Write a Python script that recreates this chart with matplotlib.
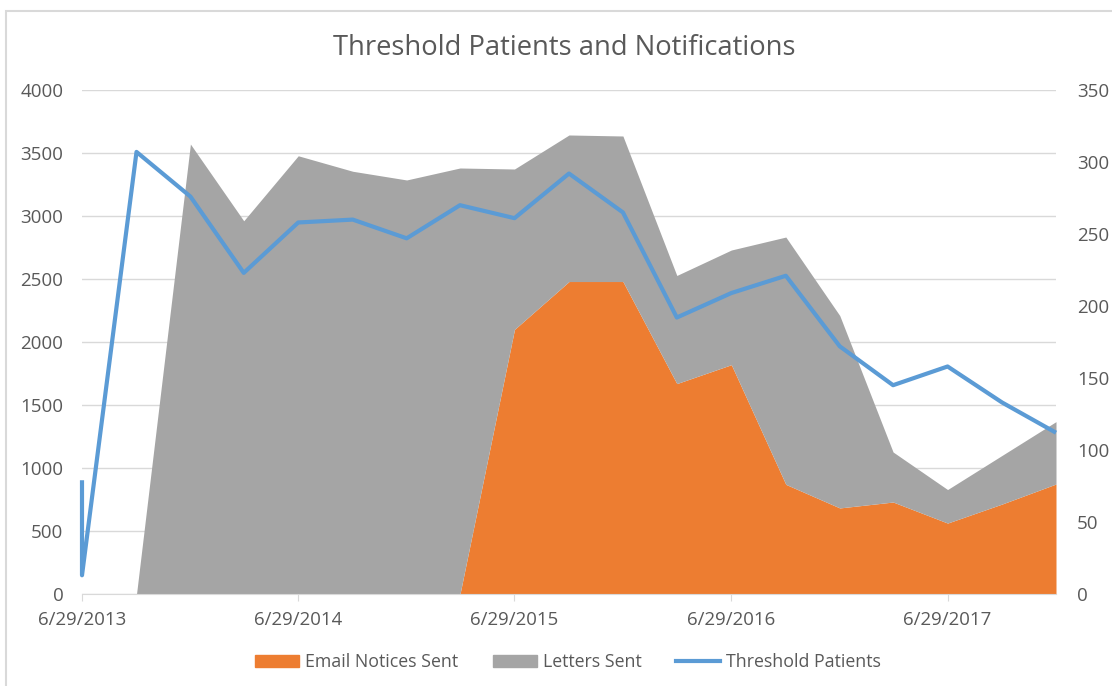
import numpy as np
import pandas as pd
import matplotlib
matplotlib.use('Agg')
import matplotlib.pyplot as plt
from matplotlib.patches import Rectangle, Patch
from matplotlib.lines import Line2D

# dados
datas = ['2013-06-29', '2013-06-29', '2013-09-29', '2013-12-29', '2014-03-29',
         '2014-06-29', '2014-09-29', '2014-12-29', '2015-03-29', '2015-06-29',
         '2015-09-29', '2015-12-29', '2016-03-29', '2016-06-29', '2016-09-29',
         '2016-12-29', '2017-03-29', '2017-06-29', '2017-09-29', '2017-12-29']
email = [0, 0, 0, 0, 0,
         0, 0, 0, 0, 2100,
         2480, 2480, 1670, 1820, 870,
         683, 730, 563, 714, 873]
total = [0, 0, 0, 3571, 2962,
         3478, 3355, 3286, 3381, 3373,
         3643, 3635, 2528, 2730, 2833,
         2210, 1127, 829, 1100, 1368]
pacientes = [79, 13, 307, 276, 223,
             258, 260, 247, 270, 261,
             292, 265, 192, 209, 221,
             172, 145, 158, 133, 112]
anos_ticks = ['2013-06-29', '2014-06-29', '2015-06-29', '2016-06-29', '2017-06-29']

x = pd.to_datetime(datas)
email = np.array(email)
cartas = np.array(total) - email

cor_texto = '#595959'
cor_grade = '#d9d9d9'
fonte = 'Open Sans'

fig = plt.figure(figsize=(11.12, 6.86), dpi=100)
ax = fig.add_axes([82 / 1112, 1 - 594 / 686, (1056 - 82) / 1112, (594 - 90) / 686])
ax2 = ax.twinx()

ax.fill_between(x, 0, email, color='#ed7d31', linewidth=0, zorder=2)
ax.fill_between(x, email, email + cartas, color='#a5a5a5', linewidth=0, zorder=2)
ax2.plot(x, pacientes, color='#5b9bd5', linewidth=3, solid_joinstyle='round',
         solid_capstyle='butt', clip_on=False, zorder=3)

ax.set_xlim(x[0], x[-1])
ax.set_ylim(0, 4000)
ax2.set_ylim(0, 350)
ax.set_yticks(np.arange(0, 4001, 500))
ax2.set_yticks(np.arange(0, 351, 50))
ax.grid(axis='y', color=cor_grade, linewidth=1, zorder=0)
ax.set_axisbelow(True)

ticks = pd.to_datetime(anos_ticks)
ax.set_xticks(ticks)
ax.set_xticklabels([f'{d.month}/{d.day}/{d.year}' for d in ticks])

for a in (ax, ax2):
    for s in a.spines.values():
        s.set_visible(False)
ax.spines['bottom'].set_visible(True)
ax.spines['bottom'].set_color(cor_grade)

ax.tick_params(axis='x', colors=cor_texto, labelsize=13.4, length=5, color=cor_grade, pad=7.5)
ax.tick_params(axis='y', colors=cor_texto, labelsize=13.5, length=0, pad=13.5)
ax2.tick_params(axis='y', colors=cor_texto, labelsize=13.5, length=0, pad=15)
for lab in ax.get_xticklabels() + ax.get_yticklabels() + ax2.get_yticklabels():
    lab.set_family(fonte)

fig.text(564 / 1112, 1 - 48 / 686, 'Threshold Patients and Notifications', ha='center', va='center',
         fontsize=19.75, color=cor_texto, family=fonte)

handles = [Patch(color='#ed7d31'), Patch(color='#a5a5a5'),
           Line2D([], [], color='#5b9bd5', linewidth=3)]
leg = fig.legend(handles, ['Email Notices Sent', 'Letters Sent', 'Threshold Patients'],
                 loc='center', bbox_to_anchor=(568 / 1112, 1 - 662 / 686), ncol=3,
                 frameon=False, prop={'family': fonte, 'size': 12.8},
                 handlelength=2.47, handleheight=0.62, columnspacing=1.95, handletextpad=0.33)
for t in leg.get_texts():
    t.set_color(cor_texto)

# moldura do grafico
fig.patches.append(Rectangle((6 / 1112, -0.01), 1.2, 1 - 11 / 686 + 0.01, transform=fig.transFigure,
                             fill=False, edgecolor=cor_grade, linewidth=1.5))

fig.savefig('out.png', dpi=100)
